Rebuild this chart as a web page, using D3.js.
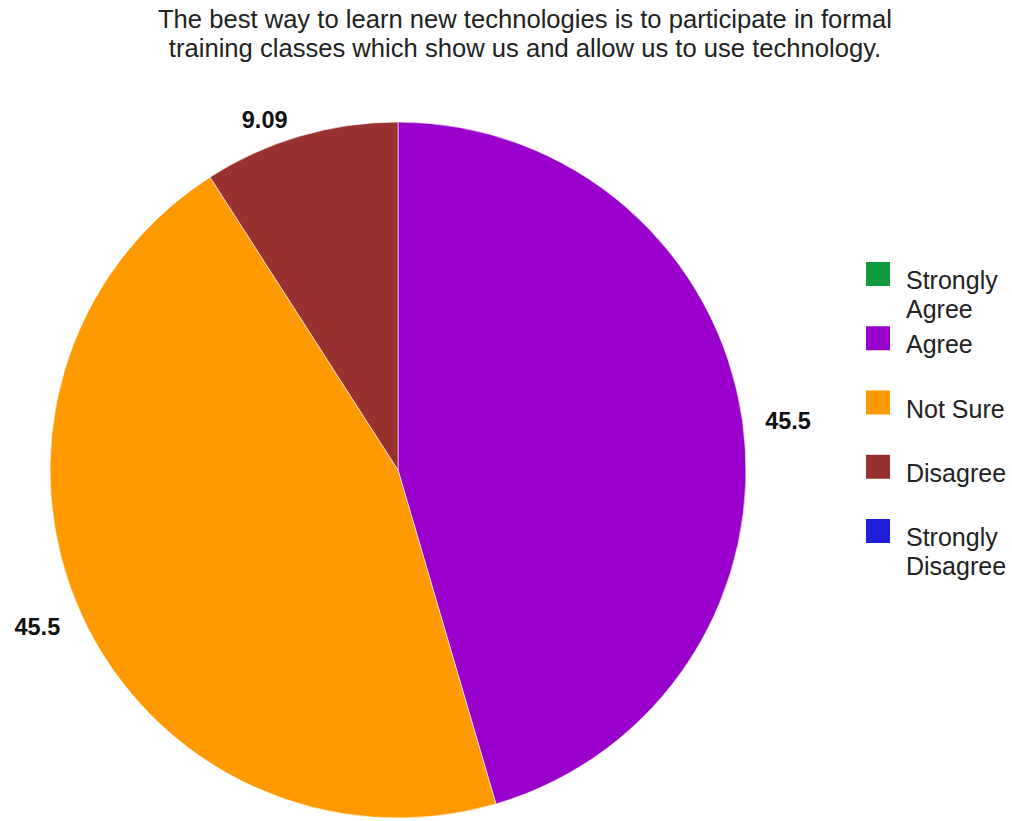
<!DOCTYPE html>
<html>
<head>
<meta charset="utf-8">
<script src="https://cdn.jsdelivr.net/npm/d3@7"></script>
<style>
  html, body { margin: 0; padding: 0; background: #ffffff; }
  svg { display: block; }
  text { font-family: "Liberation Sans", Arial, sans-serif; }
</style>
</head>
<body>
<svg id="chart" width="1012" height="821"></svg>
<script>
// Survey responses (percent of respondents)
const categories = ["Strongly Agree", "Agree", "Not Sure", "Disagree", "Strongly Disagree"];
const values = [0, 45.5, 45.5, 9.09, 0];
const valueLabels = ["", "45.5", "45.5", "9.09", ""];
const colors = ["#0f9a3c", "#9900cc", "#ff9900", "#993131", "#1e1ed8"];
const titleLines = [
  "The best way to learn new technologies is to participate in formal",
  "training classes which show us and allow us to use technology."
];

const svg = d3.select("#chart");
const cx = 398, cy = 470, r = 348;

// Title
svg.append("g")
  .selectAll("text")
  .data(titleLines)
  .join("text")
  .attr("x", 525)
  .attr("y", (d, i) => 28 + i * 29)
  .attr("text-anchor", "middle")
  .attr("font-size", 25.6)
  .attr("fill", "#222222")
  .text(d => d);

const data = categories.map((c, i) => ({ name: c, value: values[i], label: valueLabels[i], color: colors[i] }));

const pie = d3.pie().sort(null).value(d => d.value);
const arcs = pie(data);
const arc = d3.arc().innerRadius(0).outerRadius(r);

const g = svg.append("g").attr("transform", `translate(${cx},${cy})`);

g.selectAll("path")
  .data(arcs.filter(a => a.data.value > 0))
  .join("path")
  .attr("d", arc)
  .attr("fill", d => d.data.color)
  .attr("stroke", "#ffffff")
  .attr("stroke-width", 0.6);

// Value labels placed outside the pie along each slice's mid-angle
const labelArc = d3.arc().innerRadius(r + 44).outerRadius(r + 44);
const nudge = { "Agree": [2, 6], "Not Sure": [-4, -6], "Disagree": [-23, 26] };
g.selectAll("text.val")
  .data(arcs.filter(a => a.data.value > 0))
  .join("text")
  .attr("class", "val")
  .attr("transform", d => {
    const [x, y] = labelArc.centroid(d);
    const n = nudge[d.data.name] || [0, 0];
    return `translate(${x + n[0]},${y + n[1]})`;
  })
  .attr("text-anchor", "middle")
  .attr("dy", "0.35em")
  .attr("font-size", 23.5)
  .attr("font-weight", "bold")
  .attr("fill", "#111111")
  .text(d => d.data.label);

// Legend (two-word "Strongly ..." entries wrap onto a second line)
const legendY = d3.scalePoint().domain(categories).range([262, 519]);
const legend = svg.append("g")
  .selectAll("g")
  .data(data)
  .join("g")
  .attr("transform", d => `translate(866,${legendY(d.name)})`);

legend.append("rect")
  .attr("width", 24)
  .attr("height", 24)
  .attr("fill", d => d.color);

legend.append("text")
  .attr("x", 40)
  .attr("font-size", 25)
  .attr("fill", "#222222")
  .each(function(d) {
    const lines = d.name.startsWith("Strongly ") ? d.name.split(" ") : [d.name];
    const t = d3.select(this);
    lines.forEach((w, i) => {
      t.append("tspan")
        .attr("x", 40)
        .attr("y", 27 + i * 29)
        .text(w);
    });
  });
</script>
</body>
</html>
